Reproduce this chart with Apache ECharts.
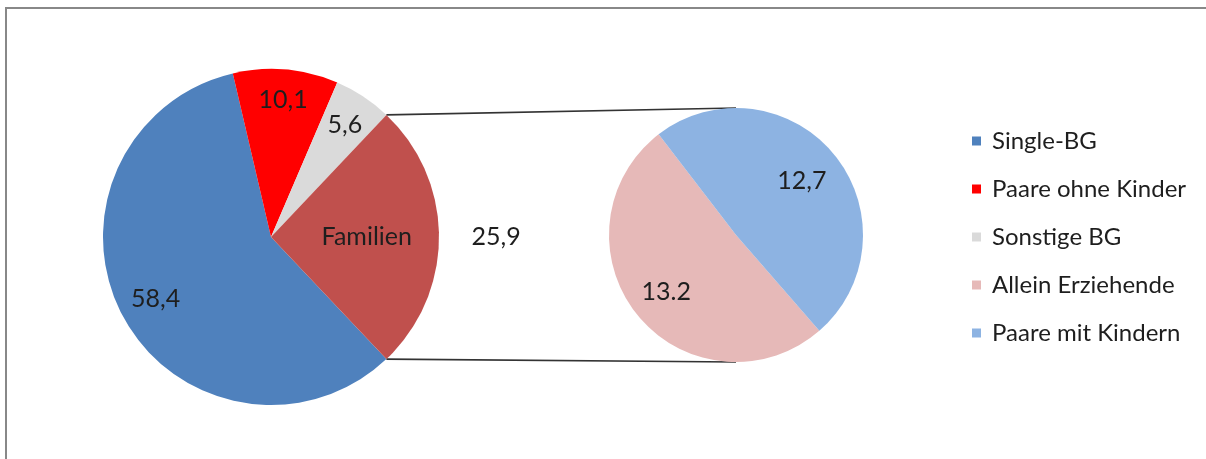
<!DOCTYPE html>
<html>
<head>
<meta charset="utf-8">
<script src="https://cdn.jsdelivr.net/npm/echarts@6/dist/echarts.min.js"></script>
<style>
html,body{margin:0;padding:0;background:#fff;}
#chart{width:1206px;height:459px;}
</style>
</head>
<body>
<div id="chart"></div>
<script>
// ---- data ----
var mainCategories = ['Single-BG', 'Paare ohne Kinder', 'Sonstige BG', 'Familien'];
var mainValues = [58.4, 10.1, 5.6, 25.9];
var mainLabels = ['58,4', '10,1', '5,6', 'Familien'];
var familienValueLabel = '25,9';
var subCategories = ['Allein Erziehende', 'Paare mit Kindern'];
var subValues = [13.2, 12.7];
var subLabels = ['13.2', '12,7'];
var legendOrder = ['Single-BG', 'Paare ohne Kinder', 'Sonstige BG', 'Allein Erziehende', 'Paare mit Kindern'];

// ---- layout / style ----
var colors = {
  'Single-BG': '#4F81BD',
  'Paare ohne Kinder': '#FF0000',
  'Sonstige BG': '#DADADA',
  'Familien': '#C0504D',
  'Allein Erziehende': '#E6B9B8',
  'Paare mit Kindern': '#8DB3E2'
};
var FONT = 'Lato';
var FS_LABEL = 25;
var FS_LEGEND = 24;
var TXT = '#1e1e1e';
var C1 = [271, 237], R1 = 168;
var C2 = [736, 235], R2 = 127;
var mainLabelRadius = [0.78, 0.82, 0.80, 0.57];
var familienValueRadius = 1.34;
var subLabelRadius = [0.71, 0.67];
var subStartAngle = 311;

var total = mainValues.reduce(function(a,b){return a+b;},0);
var famIdx = mainCategories.indexOf('Familien');
var halfFam = mainValues[famIdx] / total * 180;
var mainStart = 360 - halfFam;

function radialLayout(center, R, ratios) {
  return function(p) {
    var k = ratios[p.dataIndex];
    if (k == null) return {};
    var r = p.labelRect;
    var lx = r.x + r.width / 2, ly = r.y + r.height / 2;
    var vx = lx - center[0], vy = ly - center[1];
    var d = Math.sqrt(vx*vx + vy*vy) || 1;
    var f = k * R / d - 1;
    return { dx: vx * f, dy: vy * f };
  };
}

var labelStyle = { fontFamily: FONT, fontSize: FS_LABEL, color: TXT, position: 'inside' };

var mainData = mainCategories.map(function(n, i){
  return { name: n, value: mainValues[i], itemStyle: { color: colors[n] } };
});
var overlayData = mainCategories.map(function(n, i){
  return { name: 'overlay-' + i, value: mainValues[i], itemStyle: { color: 'rgba(0,0,0,0)' },
           label: { show: i === famIdx } };
});
var subData = subCategories.map(function(n, i){
  return { name: n, value: subValues[i], itemStyle: { color: colors[n] } };
});

var famRatios = []; famRatios[famIdx] = familienValueRadius;

// connector lines
var a = halfFam * Math.PI / 180;
var topStart = [C1[0] + R1 * Math.cos(a), C1[1] - R1 * Math.sin(a)];
var botStart = [C1[0] + R1 * Math.cos(a), C1[1] + R1 * Math.sin(a)];
var topEnd = [C2[0], C2[1] - R2];
var botEnd = [C2[0], C2[1] + R2];

var chart = echarts.init(document.getElementById('chart'), null, { renderer: 'canvas' });
chart.setOption({
  animation: false,
  backgroundColor: '#ffffff',
  legend: {
    data: legendOrder.map(function(n){ return { name: n, itemStyle: { color: colors[n] } }; }),
    orient: 'vertical',
    left: 972,
    top: 128,
    padding: 0,
    icon: 'rect',
    itemWidth: 9,
    itemHeight: 9,
    itemGap: 22,
    selectedMode: false,
    textStyle: { fontFamily: FONT, fontSize: FS_LEGEND, color: TXT, padding: [0,0,0,6], lineHeight: 26 }
  },
  graphic: [
    { type: 'line', shape: { x1: 5, y1: 8, x2: 1206, y2: 8 },
      style: { stroke: '#888888', lineWidth: 2 }, silent: true },
    { type: 'line', shape: { x1: 6, y1: 8, x2: 6, y2: 459 },
      style: { stroke: '#888888', lineWidth: 2 }, silent: true },
    { type: 'line', shape: { x1: topStart[0], y1: topStart[1], x2: topEnd[0], y2: topEnd[1] },
      style: { stroke: '#333333', lineWidth: 1.6 }, silent: true },
    { type: 'line', shape: { x1: botStart[0], y1: botStart[1], x2: botEnd[0], y2: botEnd[1] },
      style: { stroke: '#333333', lineWidth: 1.6 }, silent: true }
  ],
  series: [
    {
      type: 'pie', center: C1, radius: [0, R1], startAngle: mainStart, clockwise: true,
      avoidLabelOverlap: false, silent: true,
      label: Object.assign({ show: true, formatter: function(p){ return mainLabels[p.dataIndex]; } }, labelStyle),
      labelLine: { show: false },
      labelLayout: radialLayout(C1, R1, mainLabelRadius),
      itemStyle: { borderWidth: 0 },
      emphasis: { disabled: true },
      data: mainData
    },
    {
      type: 'pie', center: C1, radius: [0, R1], startAngle: mainStart, clockwise: true,
      avoidLabelOverlap: false, silent: true, z: 3,
      label: Object.assign({ show: true, formatter: function(p){ return familienValueLabel; } }, labelStyle),
      labelLine: { show: false },
      labelLayout: radialLayout(C1, R1, famRatios),
      emphasis: { disabled: true },
      data: overlayData
    },
    {
      type: 'pie', center: C2, radius: [0, R2], startAngle: subStartAngle, clockwise: true,
      avoidLabelOverlap: false, silent: true,
      label: Object.assign({ show: true, formatter: function(p){ return subLabels[p.dataIndex]; } }, labelStyle),
      labelLine: { show: false },
      labelLayout: radialLayout(C2, R2, subLabelRadius),
      itemStyle: { borderWidth: 0 },
      emphasis: { disabled: true },
      data: subData
    }
  ]
});
</script>
</body>
</html>
